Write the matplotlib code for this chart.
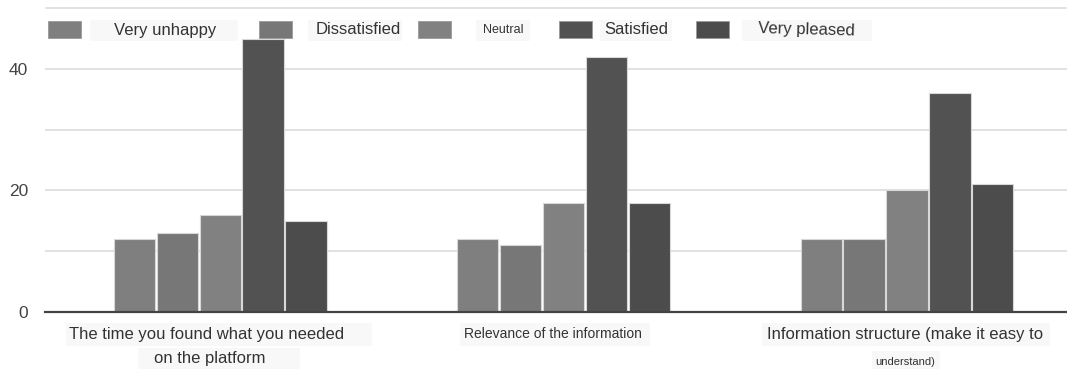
import matplotlib
matplotlib.use("Agg")
import matplotlib.pyplot as plt
from matplotlib.patches import Rectangle
from matplotlib.transforms import blended_transform_factory
import numpy as np

plt.rcParams['font.family'] = ['Liberation Sans', 'DejaVu Sans']

# --- data -------------------------------------------------------------
series = ["Very unhappy", "Dissatisfied", "Neutral", "Satisfied", "Very pleased"]
category_line1 = ["The time you found what you needed",
                  "Relevance of the information",
                  "Information structure (make it easy to"]
category_line2 = ["on the platform", "", "understand)"]
very_unhappy = [12, 12, 12]
dissatisfied = [13, 11, 12]
neutral = [16, 18, 20]
satisfied = [45, 42, 36]
very_pleased = [15, 18, 21]
yticks = [0, 20, 40]

values = [very_unhappy, dissatisfied, neutral, satisfied, very_pleased]
colors = ["#7f7f7f", "#777777", "#818181", "#525252", "#4c4c4c"]

W, H = 1067, 369
fig = plt.figure(figsize=(W / 100, H / 100), dpi=100)

def fx(px):
    return px / W

def fy(py):
    return 1 - py / H

def label_box(x0, x1, y0, y1):
    """Faint background panel behind a text label (pixel coords)."""
    fig.patches.append(Rectangle((fx(x0), fy(y1)), fx(x1 - x0), (y1 - y0) / H,
                                 transform=fig.transFigure, facecolor="#f8f8f8",
                                 edgecolor="none", zorder=1))

# axes area in pixels
left, right, top, bottom = 45, 1067, 7, 312
ax = fig.add_axes([fx(left), fy(bottom), fx(right - left), (bottom - top) / H])

x = np.arange(len(category_line1))
step = 0.125
width = 0.12
for i, (vals, c) in enumerate(zip(values, colors)):
    ax.bar(x + (i - 2) * step, vals, width=width, color=c,
           edgecolor="#d8d8d8", linewidth=0.8, zorder=3)

ax.set_xlim(-0.51, 2.466)
ax.set_ylim(0, 50.2)
ax.set_yticks(yticks)
ax.set_yticklabels([str(v) for v in yticks], fontsize=12.5, color="#444444")
ax.set_yticks(np.arange(0, 51, 10), minor=True)
ax.tick_params(axis="y", which="both", length=0, pad=12)
ax.set_xticks([])
ax.grid(axis="y", which="both", color="#dcdcdc", linewidth=1.2, zorder=0)
for s in ["top", "right", "left"]:
    ax.spines[s].set_visible(False)
ax.spines["bottom"].set_color("#444444")
ax.spines["bottom"].set_linewidth(1.6)
ax.spines["bottom"].set_zorder(4)

# category labels under each group (x follows the data axis)
tr = blended_transform_factory(ax.transData, fig.transFigure)
line1_dx = [-0.04, -0.03, -0.005]
line1_size = [12, 10, 12]
line1_box = [(66, 372), (460, 650), (762, 1050)]
line2_dx = [-0.03, 0, -0.004]
line2_size = [12, 10, 8]
line2_box = [(138, 300), None, (872, 940)]
for i in range(len(category_line1)):
    label_box(line1_box[i][0], line1_box[i][1], 323, 346)
    fig.text(x[i] + line1_dx[i], fy(334), category_line1[i], transform=tr,
             ha="center", va="center", fontsize=line1_size[i], color="#333333",
             zorder=6)
    if category_line2[i]:
        ly = 359 if i == 0 else 362
        label_box(line2_box[i][0], line2_box[i][1], ly - 11, ly + 10)
        fig.text(x[i] + line2_dx[i], fy(ly), category_line2[i],
                 transform=tr, ha="center", va="center", fontsize=line2_size[i],
                 color="#333333", zorder=6)

# legend row across the top
patch_x = [48, 259, 418, 559, 696]
text_x = [165, 358, 503, 636, 806]
text_size = [12, 12, 9, 12, 12]
text_rot = [0, 0, 0, 0, -1.5]
box_x = [(90, 238), (308, 402), (476, 530), (600, 672), (742, 872)]
for name, c, px_, tx, fs, rot, bx in zip(series, colors, patch_x, text_x,
                                          text_size, text_rot, box_x):
    fig.patches.append(Rectangle((fx(px_), fy(38)), fx(33), 17 / H,
                                 transform=fig.transFigure, facecolor=c,
                                 edgecolor="#9a9a9a", linewidth=0.6, zorder=5))
    label_box(bx[0], bx[1], 20, 41)
    fig.text(fx(tx), fy(30), name, ha="center", va="center", fontsize=fs,
             color="#333333", zorder=6, rotation=rot)

fig.savefig("out.png", dpi=100, facecolor="white")
